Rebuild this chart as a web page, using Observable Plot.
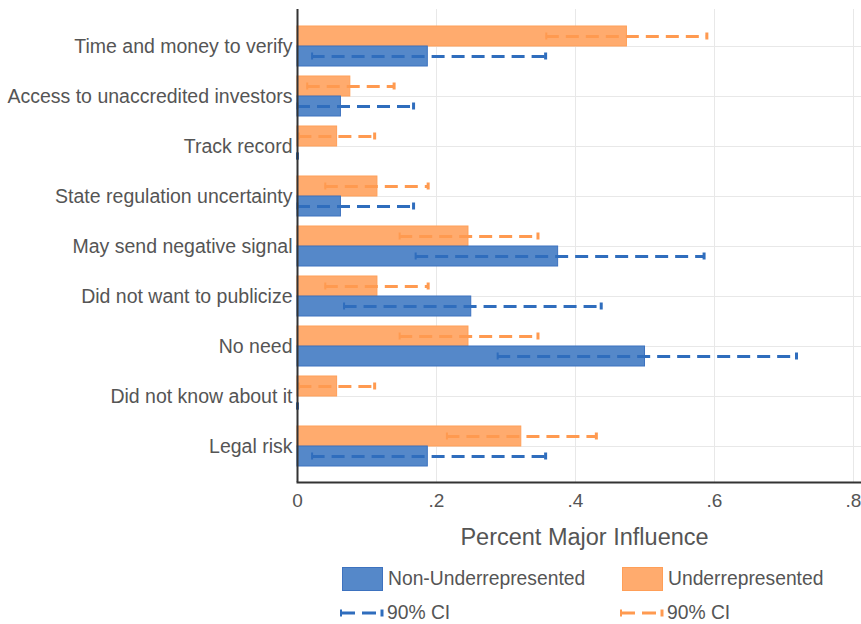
<!DOCTYPE html>
<html>
<head>
<meta charset="utf-8">
<script src="https://cdn.jsdelivr.net/npm/d3@7"></script>
<script src="https://cdn.jsdelivr.net/npm/@observablehq/plot@0.6"></script>
<style>
  body { margin: 0; background: white; font-family: "Liberation Sans", Arial, sans-serif; }
  #wrap { width: 861px; position: relative; }
  #legend { position: relative; width: 861px; height: 64px; color: #555; font-size: 19.3px; }
  #legend .sw { position: absolute; box-sizing: border-box; width: 41px; height: 24px; }
  #legend .tx { position: absolute; line-height: 24px; white-space: nowrap; }
  #legend svg { position: absolute; }
</style>
</head>
<body>
<div id="wrap"><div id="chart"></div><div id="legend"></div></div>
<script>
const categories = [
  "Time and money to verify",
  "Access to unaccredited investors",
  "Track record",
  "State regulation uncertainty",
  "May send negative signal",
  "Did not want to publicize",
  "No need",
  "Did not know about it",
  "Legal risk"
];
// Underrepresented (orange)
const underValues = [0.474, 0.076, 0.057, 0.115, 0.246, 0.115, 0.246, 0.057, 0.322];
const underLo     = [0.358, 0.014, 0.002, 0.040, 0.147, 0.040, 0.147, 0.002, 0.215];
const underHi     = [0.589, 0.139, 0.111, 0.188, 0.346, 0.188, 0.346, 0.111, 0.430];
// Non-Underrepresented (blue)
const nonValues = [0.1875, 0.0625, 0, 0.0625, 0.375, 0.25, 0.5, 0, 0.1875];
const nonLo     = [0.021, 0, 0, 0, 0.170, 0.067, 0.288, 0, 0.021];
const nonHi     = [0.357, 0.167, 0, 0.167, 0.585, 0.437, 0.718, 0, 0.357];

const xTicks = [0, 0.2, 0.4, 0.6, 0.8];
const seriesNames = ["Non-Underrepresented", "Underrepresented"];
const ciLabel = "90% CI";
const axisTitle = "Percent Major Influence";

const blueFill = "#5588c9", blueStroke = "#3d72bf", blueErr = "#2f6dbd";
const orangeFill = "#ffab6e", orangeStroke = "#ff9f58", orangeErr = "#ff9a50";

const rows = categories.map((c, i) => ({
  c,
  under: underValues[i], ulo: underLo[i], uhi: underHi[i],
  non: nonValues[i], nlo: nonLo[i], nhi: nonHi[i]
}));

const fmt = d => d === 0 ? "0" : d3.format(".1f")(d).replace(/^0/, "");
const dash = "13,7";

const chart = Plot.plot({
  width: 861,
  height: 560,
  marginTop: 9,
  marginBottom: 78,
  marginLeft: 297,
  marginRight: 0,
  style: { fontFamily: "'Liberation Sans', Arial, sans-serif", fontSize: "19px", color: "#555", background: "white", overflow: "visible" },
  x: { domain: [0, 0.8115] },
  y: { domain: categories, paddingInner: 0.208, paddingOuter: 0.277 },
  marks: [
    Plot.gridX(xTicks.slice(1), { stroke: "#e8e8e8", strokeOpacity: 1, strokeWidth: 1 }),
    Plot.gridY(categories, { stroke: "#e8e8e8", strokeOpacity: 1, strokeWidth: 1 }),
    Plot.barX(rows, { x: "under", y: "c", insetBottom: 20, fill: orangeFill, stroke: orangeStroke, strokeWidth: 1 }),
    Plot.barX(rows, { x: "non", y: "c", insetTop: 20, fill: blueFill, stroke: blueStroke, strokeWidth: 1 }),
    Plot.ruleY(rows, { y: "c", x1: "ulo", x2: "uhi", dy: -10, stroke: orangeErr, strokeWidth: 3, strokeDasharray: dash }),
    Plot.ruleY(rows, { y: "c", x1: "nlo", x2: "nhi", dy: 10, stroke: blueErr, strokeWidth: 3, strokeDasharray: dash }),
    Plot.tickX(rows, { x: "ulo", y: "c", insetTop: 6.5, insetBottom: 26.5, stroke: orangeErr, strokeWidth: 2 }),
    Plot.tickX(rows, { x: "uhi", y: "c", insetTop: 6.5, insetBottom: 26.5, stroke: orangeErr, strokeWidth: 3 }),
    Plot.tickX(rows, { x: "nlo", y: "c", insetTop: 26.5, insetBottom: 6.5, stroke: blueErr, strokeWidth: 2 }),
    Plot.tickX(rows, { x: "nhi", y: "c", insetTop: 26.5, insetBottom: 6.5, stroke: blueErr, strokeWidth: 3 }),
    Plot.ruleX([0], { stroke: "#333", strokeWidth: 2 }),
    Plot.frame({ anchor: "bottom", stroke: "#333", strokeWidth: 2 }),
    Plot.axisX({ ticks: xTicks, tickFormat: fmt, tickSize: 0, tickPadding: 11, label: null }),
    Plot.axisY({ tickSize: 0, tickPadding: 5, label: null, fontSize: 19.5 }),
    Plot.text([axisTitle], { text: d => d, frameAnchor: "bottom", dy: 55, dx: 5, fontSize: 23.5, lineAnchor: "middle", fill: "#555" })
  ]
});
document.getElementById("chart").appendChild(chart);

// Legend (HTML below the SVG)
const legend = document.getElementById("legend");
function addSwatch(left, fill, stroke) {
  const d = document.createElement("div");
  d.className = "sw";
  d.style.left = left + "px"; d.style.top = "7px";
  d.style.background = fill; d.style.border = "1px solid " + stroke;
  legend.appendChild(d);
}
function addText(left, top, txt) {
  const d = document.createElement("div");
  d.className = "tx";
  d.style.left = left + "px"; d.style.top = top + "px";
  d.textContent = txt;
  legend.appendChild(d);
}
function addCI(left, color) {
  const ns = "http://www.w3.org/2000/svg";
  const s = document.createElementNS(ns, "svg");
  s.setAttribute("width", 46); s.setAttribute("height", 14);
  s.style.left = left + "px"; s.style.top = "46px";
  const l = document.createElementNS(ns, "line");
  l.setAttribute("x1", 2); l.setAttribute("x2", 43); l.setAttribute("y1", 7); l.setAttribute("y2", 7);
  l.setAttribute("stroke", color); l.setAttribute("stroke-width", 3); l.setAttribute("stroke-dasharray", "14,7");
  s.appendChild(l);
  const c1 = document.createElementNS(ns, "line");
  c1.setAttribute("x1", 2); c1.setAttribute("x2", 2); c1.setAttribute("y1", 3.5); c1.setAttribute("y2", 10.5);
  c1.setAttribute("stroke", color); c1.setAttribute("stroke-width", 2);
  s.appendChild(c1);
  const c2 = document.createElementNS(ns, "line");
  c2.setAttribute("x1", 43); c2.setAttribute("x2", 43); c2.setAttribute("y1", 3.5); c2.setAttribute("y2", 10.5);
  c2.setAttribute("stroke", color); c2.setAttribute("stroke-width", 3);
  s.appendChild(c2);
  legend.appendChild(s);
}
addSwatch(342, blueFill, blueStroke);
addText(388, 7, seriesNames[0]);
addSwatch(622, orangeFill, orangeStroke);
addText(668, 7, seriesNames[1]);
addCI(339, blueErr);
addText(387, 41, ciLabel);
addCI(619, orangeErr);
addText(667, 41, ciLabel);
</script>
</body>
</html>
